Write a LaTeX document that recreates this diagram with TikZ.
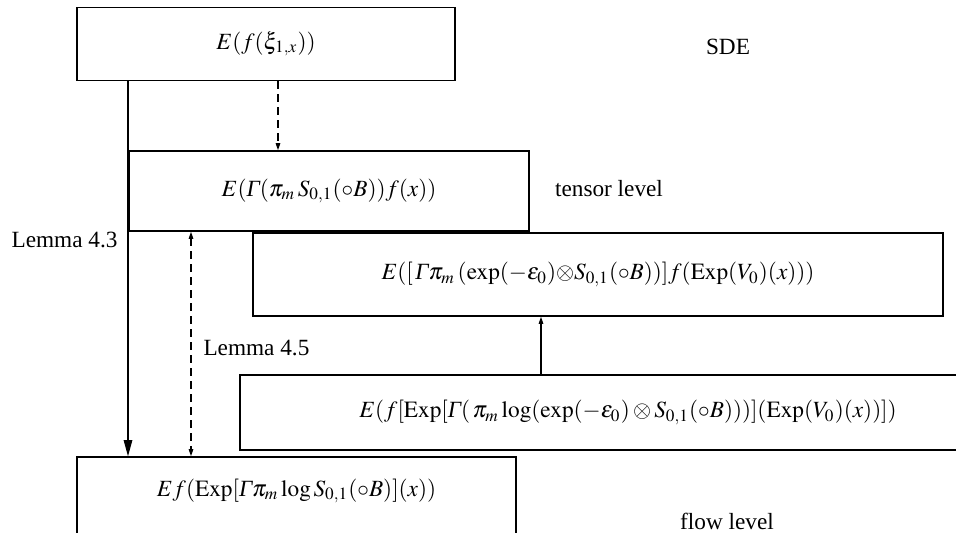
\documentclass[tikz,border=0pt]{standalone}
\usepackage{mathptmx}
\usepackage{fontspec}
\setmainfont{Liberation Serif}
\usetikzlibrary{arrows.meta}
\newcommand{\itGamma}{\mbox{\itshape Γ}}

\begin{document}
\begin{tikzpicture}[x=0.4pt, y=-0.4pt,
                    every node/.style={font=\fontsize{9.3}{11}\selectfont},
                    box/.style={draw, rectangle, line width=0.6pt, inner sep=0pt},
                    every edge/.style={draw, line width=0.45pt}]
    \clip (0,0) rectangle (956,533);

    % Levels of the scheme
    \node[box, minimum width=151.2pt, minimum height=29.2pt] (S) at (266,44) {$E(f(\xi_{1,x}))$}; % SDE
    \node[box, minimum width=160pt, minimum height=32pt] (T) at (329,191) {$E(\itGamma(\pi_m\,S_{0,1}(\circ B))f(x))$}; % tensor
    \node[box, minimum width=276pt, minimum height=33.2pt] (TE) at (598,274.5)
        {$E([\,\itGamma\pi_m\,(\exp(-\varepsilon_0){\otimes}S_{0,1}(\circ B))]f(\mathrm{Exp}(V_0)(x)))$\hspace{28.8pt}}; % tensor, drift split
    \node[box, minimum width=310.4pt, minimum height=30pt] (FE) at (628,412.5)
        {$E(f[\mathrm{Exp}[\itGamma(\,\pi_m\log(\exp(-\varepsilon_0)\otimes S_{0,1}(\circ B)))](\mathrm{Exp}(V_0)(x))])$}; % flow, drift split
    \node[box, minimum width=175.6pt, minimum height=41.2pt, text height=7.5pt, text depth=17.3pt] (F) at (296.5,508.5)
        {$Ef(\mathrm{Exp}[\itGamma\pi_m\log S_{0,1}(\circ B)](x))$\hspace{7.6pt}}; % flow

    % Side labels
    \node (sde) at (728,47) {SDE};
    \node (tl) at (609,189) {tensor level};
    \node (fl) at (727,521) {flow level};
    \node[anchor=east, inner sep=0pt] (l43) at (118,240) {Lemma 4.3};
    \node[anchor=west, inner sep=0pt] (l45) at (203,348) {Lemma 4.5};

    % Columns of the connectors
    \coordinate (c1) at (128,0);
    \coordinate (c2) at (191,0);
    \coordinate (c3) at (278,0);
    \coordinate (c4) at (541,0);

    % Define edges
    \path [-{Triangle[length=6.4pt, width=3.4pt]}] (S.south -| c1) edge (F.north -| c1);
    \path [{Triangle[length=2.8pt, width=1.8pt]}-{Triangle[length=2.8pt, width=1.8pt]}, dash pattern=on 3.2pt off 2pt] (T.south -| c2) edge (F.north -| c2);
    \path [-{Triangle[length=2.8pt, width=1.8pt]}, dash pattern=on 3.2pt off 2pt] (S.south -| c3) edge (T.north -| c3);
    \path [-{Triangle[length=2.8pt, width=1.8pt]}] (FE.north -| c4) edge (TE.south -| c4);
\end{tikzpicture}
\end{document}
